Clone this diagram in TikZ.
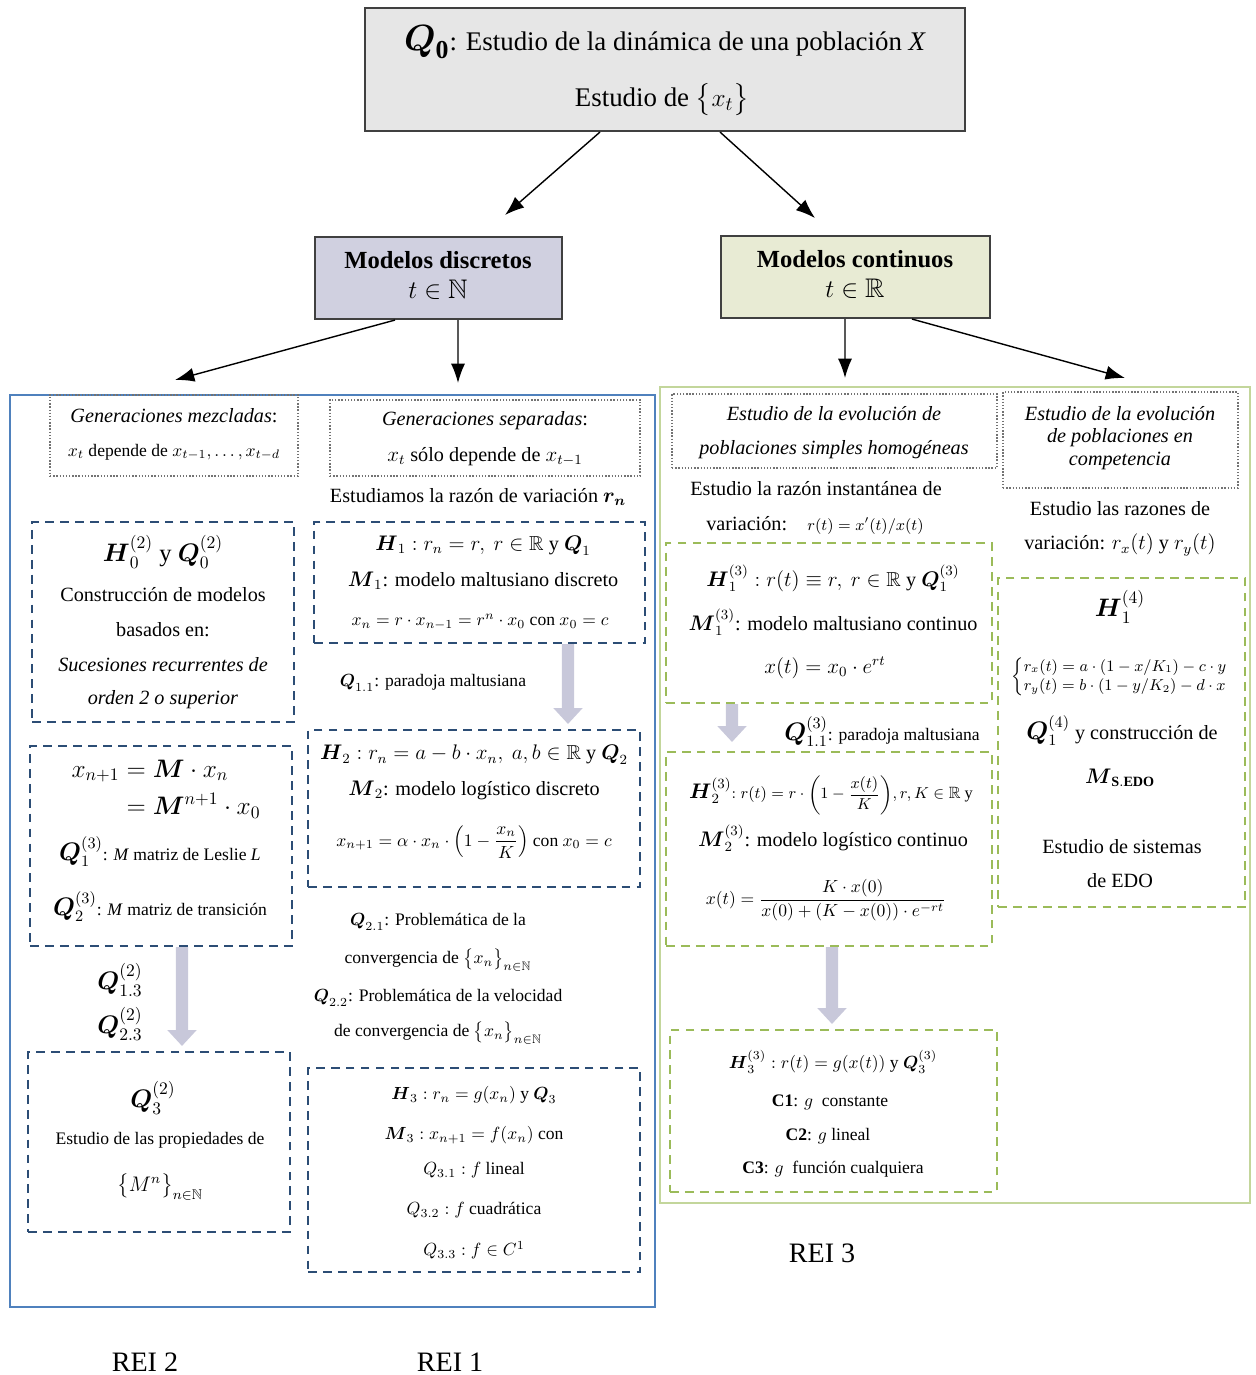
\documentclass[tikz,border=0pt]{standalone}
\usepackage{amsmath,amssymb}
\usepackage{fontspec}
\setmainfont{Liberation Serif}
\usetikzlibrary{arrows.meta}
\definecolor{reiblue}{HTML}{4F81BD}
\definecolor{reigreen}{HTML}{C3D69B}
\definecolor{dashblue}{HTML}{2C4D75}
\definecolor{dashgreen}{HTML}{9BBB59}
\definecolor{topgray}{HTML}{E6E6E6}
\definecolor{discfill}{HTML}{D0D0E0}
\definecolor{contfill}{HTML}{E8EBD4}
\definecolor{flowgray}{HTML}{C8C8DA}
\newcommand{\bld}[1]{\boldsymbol{#1}}
\newcommand{\bigq}[1]{{\fontsize{13.5}{14}\selectfont#1}}
\begin{document}
\begin{tikzpicture}[x=0.02cm,y=-0.02cm,
    every node/.style={inner sep=0pt},
    big/.style={font=\fontsize{15.3}{18}\selectfont},
    hd/.style={font=\fontsize{14}{17}\selectfont\bfseries},
    lg/.style={font=\fontsize{14}{17}\selectfont},
    txt/.style={font=\fontsize{11.5}{14}\selectfont},
    sm/.style={font=\fontsize{10}{12}\selectfont},
    rei/.style={font=\fontsize{16}{19}\selectfont},
    solidbox/.style={draw=black!75, line width=1.2pt},
    dotbox/.style={draw=black!55, densely dotted, line width=0.8pt},
    bluedash/.style={draw=dashblue, line width=1.3pt, dash pattern=on 5pt off 3.5pt},
    greendash/.style={draw=dashgreen, line width=1.3pt, dash pattern=on 5pt off 3.5pt},
    arr/.style={-{Latex[length=11pt,width=8pt]}, line width=0.8pt},
    flow/.style={-{Triangle[length=9pt,width=16pt]}, line width=7pt, draw=flowgray}]
  \useasboundingbox (0,0) rectangle (1255,1375);
  % frames of the three REI
  \node[draw=reiblue, line width=1.3pt, minimum width=12.9cm, minimum height=18.24cm] (rei2frame) at (332.5,851) {};
  \node[draw=reigreen, line width=1.5pt, minimum width=11.8cm, minimum height=16.32cm] (rei3frame) at (955,795) {};
  % boxes
  \node[solidbox, fill=topgray, minimum width=12cm, minimum height=2.46cm] (q0box) at (665,69.5) {};
  \node[solidbox, fill=discfill, minimum width=4.94cm, minimum height=1.64cm] (disc) at (438.5,278) {};
  \node[solidbox, fill=contfill, minimum width=5.38cm, minimum height=1.64cm] (cont) at (855.5,277) {};
  \node[dotbox, minimum width=4.96cm, minimum height=1.62cm] (mezcl) at (174,435.5) {};
  \node[dotbox, minimum width=6.2cm, minimum height=1.52cm] (separ) at (485,438) {};
  \node[dotbox, minimum width=6.5cm, minimum height=1.48cm] (simples) at (834.5,431) {};
  \node[dotbox, minimum width=4.7cm, minimum height=1.92cm] (compet) at (1120.5,440) {};
  \node[bluedash, minimum width=5.24cm, minimum height=4cm] (lbox1) at (163,622) {};
  \node[bluedash, minimum width=5.24cm, minimum height=4cm] (lbox2) at (161,846) {};
  \node[bluedash, minimum width=5.24cm, minimum height=3.6cm] (lbox3) at (159,1142) {};
  \node[bluedash, minimum width=6.62cm, minimum height=2.42cm] (mbox1) at (479.5,582.5) {};
  \node[bluedash, minimum width=6.64cm, minimum height=3.14cm] (mbox2) at (474,808.5) {};
  \node[bluedash, minimum width=6.64cm, minimum height=4.08cm] (mbox3) at (474,1170) {};
  \node[greendash, minimum width=6.52cm, minimum height=3.2cm] (gbox1) at (829,623) {};
  \node[greendash, minimum width=6.52cm, minimum height=3.88cm] (gbox2) at (829,849) {};
  \node[greendash, minimum width=6.54cm, minimum height=3.24cm] (gbox3) at (833.5,1111) {};
  \node[greendash, minimum width=4.94cm, minimum height=6.58cm] (gbox4) at (1121.5,742.5) {};
  % arrow ends
  \coordinate (discin) at (505,215);
  \coordinate (contin) at (815,218);
  \coordinate (mezclin) at (175,380);
  \coordinate (separin) at (458,383);
  \coordinate (simplesin) at (845,378);
  \coordinate (competin) at (1125,378);
  \coordinate (lflow) at (182,1046);
  \coordinate (mflow) at (568,724);
  \coordinate (gflow1) at (732,742);
  \coordinate (gflow2) at (832,1024);
  \draw[arr] ([xshift=-1.3cm]q0box.south) -- (discin);
  \draw[arr] ([xshift=1.1cm]q0box.south) -- (contin);
  \draw[arr] ([xshift=-0.87cm]disc.south) -- (mezclin);
  \draw[arr] ([xshift=0.39cm]disc.south) -- (separin);
  \draw[arr] ([xshift=-0.21cm]cont.south) -- (simplesin);
  \draw[arr] ([xshift=1.13cm]cont.south) -- (competin);
  \draw[flow] ([xshift=0.42cm]lbox2.south) -- (lflow);
  \draw[flow] ([xshift=1.77cm]mbox1.south) -- (mflow);
  \draw[flow] ([xshift=-1.94cm]gbox1.south) -- (gflow1);
  \draw[flow] ([xshift=0.06cm]gbox2.south) -- (gflow2);
  % top
  \node[big] (q0a) at (665,42) {{\fontsize{21}{21}\selectfont$\bld{Q}_{\mathbf{0}}$}: Estudio de la dinámica de una población \textit{X}};
  \node[big] (q0b) at (662,100) {Estudio de $\bigl\{x_t\bigr\}$};
  \node[hd] (disca) at (438,260) {Modelos discretos};
  \node[big] (discb) at (438,290) {$t\in\mathbb{N}$};
  \node[hd] (conta) at (855,259) {Modelos continuos};
  \node[big] (contb) at (855,289) {$t\in\mathbb{R}$};
  % REI 2
  \node[txt] (mezcla) at (174,416) {\textit{Generaciones mezcladas}:};
  \node[sm] (mezclb) at (174,452) {$x_t$ depende de $x_{t-1},\dots,x_{t-d}$};
  \node[lg] (l1a) at (163,552) {$\bld{H}_0^{(2)}$ y $\bld{Q}_0^{(2)}$};
  \node[txt] (l1b) at (163,595) {Construcción de modelos};
  \node[txt] (l1c) at (163,630) {basados en:};
  \node[txt] (l1d) at (163,665) {\textit{Sucesiones recurrentes de}};
  \node[txt] (l1e) at (163,700) {\textit{orden 2 o superior}};
  \node[lg] (l2a) at (166,790) {$\begin{aligned} x_{n+1}&=\bld{M}\cdot x_n\\ &=\bld{M}^{n+1}\cdot x_0\end{aligned}$};
  \node[sm] (l2b) at (160,852) {\bigq{$\bld{Q}_1^{(3)}$}: \textit{M} matriz de Leslie \textit{L}};
  \node[sm] (l2c) at (160,907) {\bigq{$\bld{Q}_2^{(3)}$}: \textit{M} matriz de transición};
  \node[lg] (q13) at (120,980) {$\bld{Q}_{1.3}^{(2)}$};
  \node[lg] (q23) at (120,1024) {$\bld{Q}_{2.3}^{(2)}$};
  \node[lg] (l3a) at (153,1098) {$\bld{Q}_3^{(2)}$};
  \node[sm] (l3b) at (160,1140) {Estudio de las propiedades de};
  \node[txt] (l3c) at (160,1187) {$\bigl\{M^n\bigr\}_{n\in\mathbb{N}}$};
  \node[rei] (rei2) at (145,1362) {REI 2};
  % REI 1
  \node[txt] (separa) at (485,421) {\textit{Generaciones separadas}:};
  \node[txt] (separb) at (485,457) {$x_t$ sólo depende de $x_{t-1}$};
  \node[txt] (razon) at (478,497) {Estudiamos la razón de variación $\bld{r_n}$};
  \node[txt] (m1a) at (483,546) {$\bld{H}_1: r_n=r,\ r\in\mathbb{R}$ y $\bld{Q}_1$};
  \node[txt] (m1b) at (483,581) {$\bld{M}_1$: modelo maltusiano discreto};
  \node[sm] (m1c) at (480,622) {$x_n=r\cdot x_{n-1}=r^n\cdot x_0$ con $x_0=c$};
  \node[sm] (q11) at (433,683) {$\bld{Q}_{1.1}$: paradoja maltusiana};
  \node[txt] (m2a) at (474,755) {$\bld{H}_2: r_n=a-b\cdot x_n,\ a,b\in\mathbb{R}$ y $\bld{Q}_2$};
  \node[txt] (m2b) at (474,790) {$\bld{M}_2$: modelo logístico discreto};
  \node[sm] (m2c) at (474,842) {$x_{n+1}=\alpha\cdot x_n\cdot\left(1-\dfrac{x_n}{K}\right)$ con $x_0=c$};
  \node[sm] (q21a) at (438,922) {$\bld{Q}_{2.1}$: Problemática de la};
  \node[sm] (q21b) at (438,960) {convergencia de $\bigl\{x_n\bigr\}_{n\in\mathbb{N}}$};
  \node[sm] (q22a) at (438,998) {$\bld{Q}_{2.2}$: Problemática de la velocidad};
  \node[sm] (q22b) at (438,1033) {de convergencia de $\bigl\{x_n\bigr\}_{n\in\mathbb{N}}$};
  \node[sm] (m3a) at (474,1095) {$\bld{H}_3: r_n=g(x_n)$ y $\bld{Q}_3$};
  \node[sm] (m3b) at (474,1135) {$\bld{M}_3: x_{n+1}=f(x_n)$ con};
  \node[sm] (m3c) at (474,1170) {$Q_{3.1}: f$ lineal};
  \node[sm] (m3d) at (474,1210) {$Q_{3.2}: f$ cuadrática};
  \node[sm] (m3e) at (474,1250) {$Q_{3.3}: f\in C^1$};
  \node[rei] (rei1) at (450,1362) {REI 1};
  % REI 3
  \node[txt] (simplesa) at (834,414) {\textit{Estudio de la evolución de}};
  \node[txt] (simplesb) at (834,450) {\textit{poblaciones simples homogéneas}};
  \node[txt] (inst1) at (816,489) {Estudio la razón instantánea de};
  \node[txt] (inst2) at (815,525) {variación:\quad {\small$r(t)=x'(t)/x(t)$}};
  \node[txt] (g1a) at (833,578) {$\bld{H}_1^{(3)}: r(t)\equiv r,\ r\in\mathbb{R}$ y $\bld{Q}_1^{(3)}$};
  \node[txt] (g1b) at (833,622) {$\bld{M}_1^{(3)}$: modelo maltusiano continuo};
  \node[txt] (g1c) at (825,668) {$x(t)=x_0\cdot e^{rt}$};
  \node[sm] (q113) at (882,732) {\bigq{$\bld{Q}_{1.1}^{(3)}$}: paradoja maltusiana};
  \node[font=\fontsize{9.3}{11}\selectfont] (g2a) at (831,795) {{\fontsize{11.5}{12}\selectfont$\bld{H}_2^{(3)}$}$: r(t)=r\cdot\left(1-\dfrac{x(t)}{K}\right)\!, r,K\in\mathbb{R}$ y};
  \node[txt] (g2b) at (833,838) {$\bld{M}_2^{(3)}$: modelo logístico continuo};
  \node[sm] (g2c) at (826,900) {$x(t)=\dfrac{K\cdot x(0)}{x(0)+(K-x(0))\cdot e^{-rt}}$};
  \node[sm] (g3a) at (833,1062) {$\bld{H}_3^{(3)}: r(t)=g(x(t))$ y $\bld{Q}_3^{(3)}$};
  \node[sm] (g3b) at (830,1102) {\textbf{C1}: $g$\ \ constante};
  \node[sm] (g3c) at (828,1136) {\textbf{C2}: $g$ lineal};
  \node[sm] (g3d) at (833,1169) {\textbf{C3}: $g$\ \ función cualquiera};
  \node[rei] (rei3) at (822,1253) {REI 3};
  % competencia
  \node[txt] (competa) at (1120,414) {\textit{Estudio de la evolución}};
  \node[txt] (competb) at (1120,438) {\textit{de poblaciones en}};
  \node[txt] (competc) at (1120,461) {\textit{competencia}};
  \node[txt] (rz1) at (1120,509) {Estudio las razones de};
  \node[txt] (rz2) at (1120,545) {variación: $r_x(t)$ y $r_y(t)$};
  \node[lg] (g4a) at (1120,607) {$\bld{H}_1^{(4)}$};
  \node[font=\fontsize{9}{11}\selectfont] (g4b) at (1120,677) {$\left\{\begin{array}{@{}l@{}} r_x(t)=a\cdot(1-x/K_1)-c\cdot y\\ r_y(t)=b\cdot(1-y/K_2)-d\cdot x\end{array}\right.$};
  \node[txt] (g4c) at (1122,731) {\bigq{$\bld{Q}_1^{(4)}$} y construcción de};
  \node[txt] (g4d) at (1120,778) {$\bld{M}_{\mathbf{S.EDO}}$};
  \node[txt] (g4e) at (1122,847) {Estudio de sistemas};
  \node[txt] (g4f) at (1120,881) {de EDO};
\end{tikzpicture}
\end{document}
